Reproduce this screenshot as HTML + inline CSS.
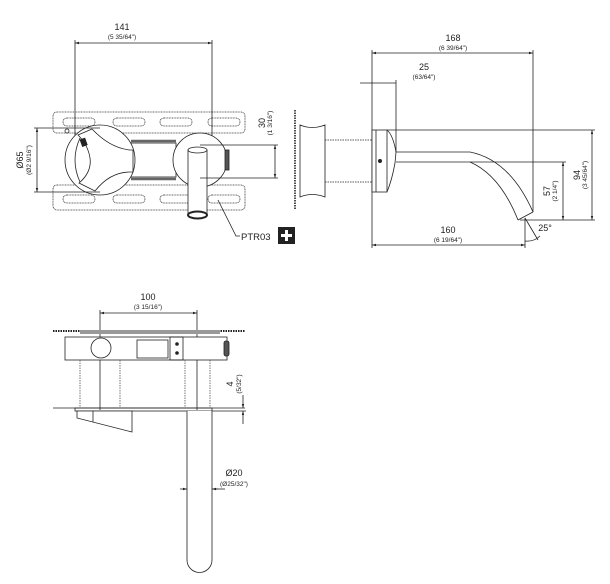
<!DOCTYPE html>
<html><head><meta charset="utf-8"><style>
html,body{margin:0;padding:0;background:#fff;}
svg{display:block;font-family:"Liberation Sans",sans-serif;}
</style></head><body>
<svg width="610" height="584" viewBox="0 0 610 584" xmlns="http://www.w3.org/2000/svg">
<defs>
<marker id="a" viewBox="0 0 10 10" refX="10" refY="5" markerWidth="5" markerHeight="5" orient="auto-start-reverse"><path d="M0,2 L10,5 L0,8z" fill="#222"/></marker>
</defs>
<g fill="none" stroke="#222" stroke-width="0.8">
<line x1="75" y1="43" x2="212" y2="43" marker-start="url(#a)" marker-end="url(#a)"/>
<line x1="75" y1="40" x2="75" y2="160"/>
<line x1="212" y1="40" x2="212" y2="175"/>
<g stroke-dasharray="1 0.6" stroke="#333">
<rect x="53" y="112" width="192" height="21" rx="4"/>
<rect x="53" y="185" width="192" height="25" rx="4"/>
<rect x="63" y="118" width="32" height="8" rx="4"/><rect x="113" y="118" width="32" height="8" rx="4"/><rect x="160" y="118" width="32" height="8" rx="4"/><rect x="208" y="118" width="32" height="8" rx="4"/>
<rect x="63" y="195" width="32" height="8" rx="4"/><rect x="113" y="195" width="32" height="8" rx="4"/><rect x="160" y="195" width="32" height="8" rx="4"/><rect x="208" y="195" width="32" height="8" rx="4"/>
</g>
<circle cx="67" cy="131" r="2"/>
<rect x="131" y="143" width="45" height="34" fill="#fff"/>
<line x1="131" y1="141" x2="176" y2="141" stroke-width="2.5" stroke="#666"/>
<line x1="131" y1="179" x2="176" y2="179" stroke-width="2.5" stroke="#666"/>
<circle cx="100" cy="160" r="35" fill="#fff"/>
<circle cx="200" cy="160" r="27" fill="#fff"/>
<rect x="225" y="150" width="4" height="20" fill="#555"/>
<path d="M80,138 Q70,160 80,182"/>
<path d="M78,135 L92,129 Q110,148 130,150 L133,150 L133,172 L130,172 Q110,172 95,191 L79,183 Q92,172 90,158 Q88,145 78,135z" fill="#fff"/>
<rect x="81" y="139" width="5" height="7" fill="#222" transform="rotate(-20 83 142)"/>
<rect x="188" y="150" width="19" height="64" fill="#fff"/>
<ellipse cx="197.5" cy="150" rx="9.5" ry="3" fill="#fff"/>
<ellipse cx="197.5" cy="215" rx="9.5" ry="3.5" fill="#fff" stroke-width="2"/>
<line x1="37" y1="128" x2="37" y2="192" marker-start="url(#a)" marker-end="url(#a)"/>
<line x1="34" y1="128" x2="100" y2="128"/>
<line x1="34" y1="192" x2="100" y2="192"/>
<line x1="275" y1="145" x2="275" y2="178" marker-start="url(#a)" marker-end="url(#a)"/>
<line x1="200" y1="145" x2="278" y2="145"/>
<line x1="200" y1="178" x2="278" y2="178"/>
<polyline points="218,200 236,236 240,236"/>
<line x1="372" y1="53" x2="533" y2="53" marker-start="url(#a)" marker-end="url(#a)"/>
<line x1="372" y1="50" x2="372" y2="248"/>
<line x1="533" y1="50" x2="533" y2="212"/>
<line x1="360" y1="83" x2="396" y2="83"/>
<line x1="396" y1="80" x2="396" y2="152"/>
<line x1="295" y1="110" x2="295" y2="210" stroke-dasharray="1.5 1" stroke-width="1.6"/>
<path d="M300,125 Q312,130 325,125 L325,197 Q312,192 300,197z" fill="#fff"/>
<line x1="325" y1="140" x2="372" y2="140" stroke-dasharray="1.5 1"/>
<line x1="325" y1="182" x2="372" y2="182" stroke-dasharray="1.5 1"/>
<rect x="372" y="130" width="15" height="62" fill="#fff"/>
<line x1="376" y1="130" x2="376" y2="192"/>
<circle cx="380" cy="161" r="1.6" fill="#222"/>
<path d="M387,130 Q393,135 396,152 L395,163 Q392,180 387,192"/>
<line x1="387" y1="130" x2="595" y2="130"/>
<path d="M396,152 L470,152 Q510,160 533,212"/>
<path d="M396,162 L470,162 Q500,175 518,220"/>
<line x1="518" y1="220" x2="533" y2="212"/>
<line x1="470" y1="162" x2="566" y2="162"/>
<line x1="520" y1="220" x2="595" y2="220"/>
<line x1="563" y1="162" x2="563" y2="220" marker-start="url(#a)" marker-end="url(#a)"/>
<line x1="592" y1="130" x2="592" y2="220" marker-start="url(#a)" marker-end="url(#a)"/>
<line x1="372" y1="245" x2="525" y2="245" marker-start="url(#a)" marker-end="url(#a)"/>
<line x1="525" y1="218" x2="525" y2="248"/>
<line x1="525" y1="218" x2="538" y2="240"/>
<path d="M525,241 Q534,242 540,236"/>
<line x1="100" y1="313" x2="197" y2="313" marker-start="url(#a)" marker-end="url(#a)"/>
<line x1="100" y1="310" x2="100" y2="410"/>
<line x1="197" y1="310" x2="197" y2="410"/>
<line x1="53" y1="331" x2="245" y2="331" stroke-dasharray="1.5 1" stroke-width="2"/>
<rect x="80" y="330" width="140" height="4" fill="#999" stroke="none"/>
<rect x="65" y="337" width="162" height="23" fill="#fff"/>
<circle cx="101" cy="348" r="10" fill="#fff"/>
<rect x="137" y="340" width="31" height="18"/>
<rect x="170" y="337" width="13" height="23"/>
<circle cx="177" cy="344" r="1.4" fill="#222"/><circle cx="177" cy="353" r="1.4" fill="#222"/>
<rect x="224" y="341" width="5" height="15" rx="2" fill="#555"/>
<g stroke-dasharray="1.5 1" stroke="#555">
<line x1="80" y1="360" x2="80" y2="408"/><line x1="120" y1="360" x2="120" y2="408"/>
<line x1="185" y1="360" x2="185" y2="408"/><line x1="210" y1="360" x2="210" y2="408"/>
</g>
<line x1="53" y1="408" x2="245" y2="408"/>
<rect x="75" y="408" width="137" height="3"/>
<path d="M77,411 L132,411 L132,432 L77,418z" fill="#fff"/>
<line x1="93" y1="411" x2="93" y2="422"/>
<path d="M187,411 L187,560 A12.5,12.5 0 0 0 212,560 L212,411" fill="#fff"/>
<line x1="180" y1="489" x2="187" y2="489" marker-end="url(#a)"/>
<line x1="218" y1="489" x2="212" y2="489" marker-end="url(#a)"/>
<line x1="212" y1="489" x2="225" y2="489"/>
<line x1="243" y1="395" x2="243" y2="408" marker-end="url(#a)"/>
<line x1="243" y1="424" x2="243" y2="411" marker-end="url(#a)"/>
<line x1="212" y1="411" x2="246" y2="411"/>
</g>
<g fill="#222" text-anchor="middle">
<text x="122" y="30" font-size="9">141</text><text x="122" y="39" font-size="6.5">(5 35/64")</text>
<text x="453" y="41" font-size="9">168</text><text x="453" y="50" font-size="6.5">(6 39/64")</text>
<text x="424" y="70" font-size="9">25</text><text x="424" y="79" font-size="6.5">(63/64")</text>
<text x="448" y="233" font-size="9">160</text><text x="448" y="242" font-size="6.5">(6 19/64")</text>
<text x="148" y="300" font-size="9">100</text><text x="148" y="309" font-size="6.5">(3 15/16")</text>
<text x="234" y="476" font-size="9">Ø20</text><text x="234" y="486" font-size="6.5">(Ø25/32")</text>
<text transform="translate(23,160) rotate(-90)" font-size="9">Ø65</text>
<text transform="translate(31,160) rotate(-90)" font-size="6.5">(Ø2 9/16")</text>
<text transform="translate(265,123) rotate(-90)" font-size="9">30</text>
<text transform="translate(272,123) rotate(-90)" font-size="6.5">(1 3/16")</text>
<text transform="translate(550,191) rotate(-90)" font-size="9">57</text>
<text transform="translate(557,191) rotate(-90)" font-size="6.5">(2 1/4")</text>
<text transform="translate(580,175) rotate(-90)" font-size="9">94</text>
<text transform="translate(587,175) rotate(-90)" font-size="6.5">(3 45/64")</text>
<text transform="translate(233,384) rotate(-90)" font-size="9">4</text>
<text transform="translate(241,384) rotate(-90)" font-size="6.5">(5/32")</text>
<text x="545" y="231" font-size="9">25°</text>
<text x="241" y="240" font-size="9.5" text-anchor="start">PTR03</text>
</g>
<rect x="278" y="227" width="17" height="17" fill="#222"/>
<path d="M286.5,230 v11 M281,235.5 h11" stroke="#fff" stroke-width="3"/>
</svg>
</body></html>
